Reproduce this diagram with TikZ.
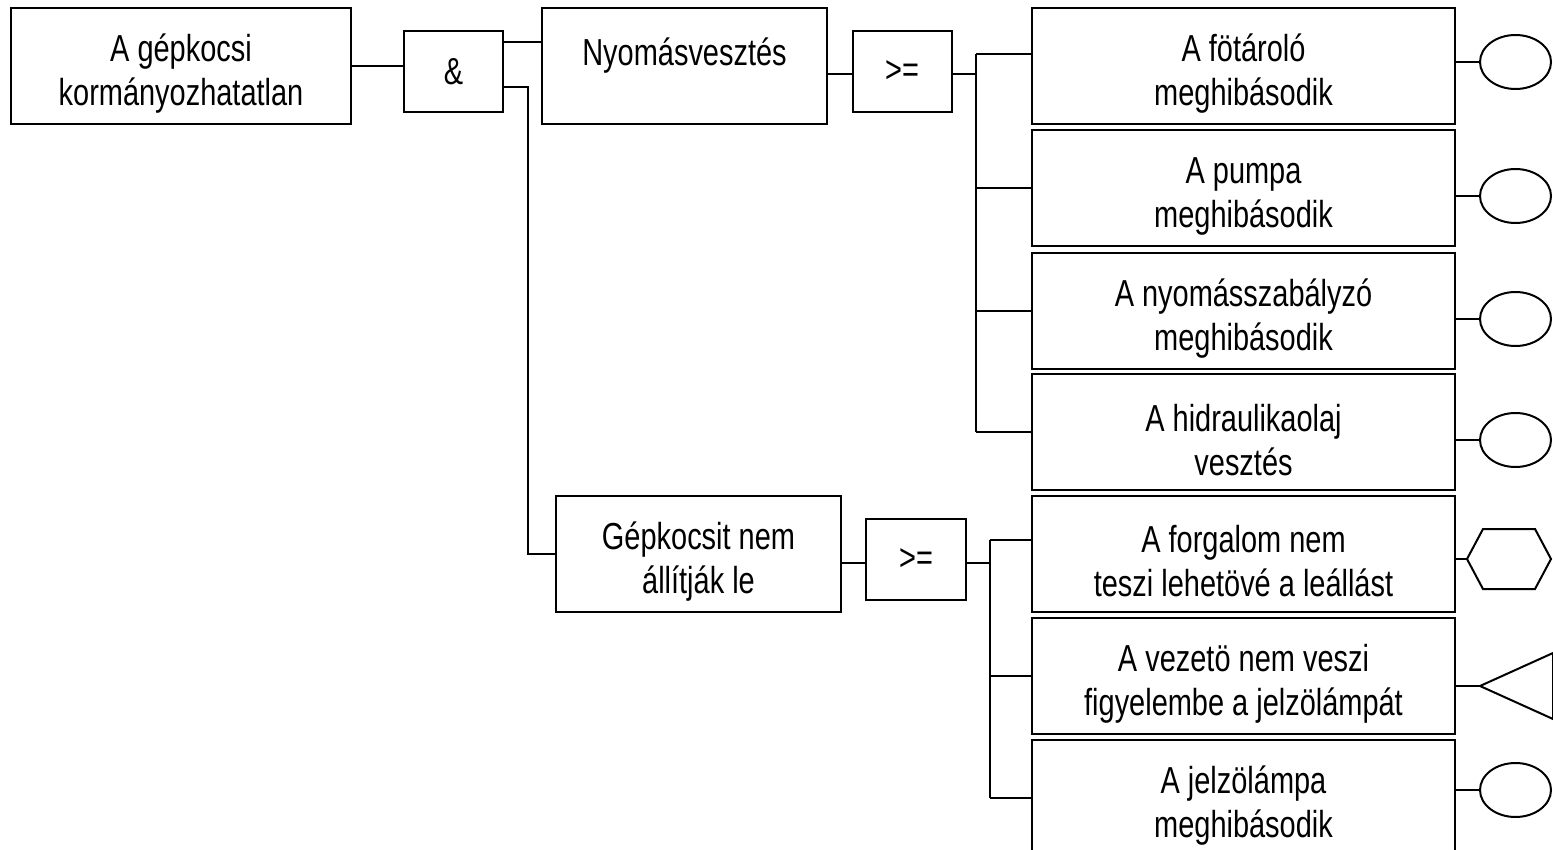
\documentclass[tikz,border=0pt]{standalone}
\usepackage{fontspec}
\setmainfont{Liberation Sans}[FakeStretch=0.77]
\usetikzlibrary{shapes.geometric}
\begin{document}
\begin{tikzpicture}[x=0.5pt,y=-0.5pt,line width=1pt,
  box/.style={draw,rectangle,minimum height=58pt,minimum width=#1,inner sep=0pt},
  gate/.style={draw,rectangle,minimum height=40.5pt,minimum width=#1,inner sep=0pt,
    font=\fontsize{18.8pt}{22pt}\selectfont},
  txt/.style={align=center,inner sep=0pt,font=\fontsize{18.8pt}{22pt}\selectfont},
  ev/.style={draw,ellipse,minimum width=35.5pt,minimum height=27pt,inner sep=0pt}]
\useasboundingbox (0,0) rectangle (1553,850);
% boxes
\node[box=170pt] (top) at (181,66) {};
\node[txt] (topt) at ([yshift=-4pt]top.center) {A gépkocsi\\kormányozhatatlan};
\node[gate=49.5pt] (and) at (453.5,71.5) {\&};
\node[box=142.5pt] (nyom) at (684.5,66) {};
\node[txt] (nyomt) at ([yshift=-4pt]nyom.center) {Nyomásvesztés\\\mbox{}};
\node[gate=49.5pt] (ge1) at (902,71.5) {>=};
\node[box=142.5pt] (gep) at (698.5,554) {};
\node[txt] (gept) at ([yshift=-4pt]gep.center) {Gépkocsit nem\\állítják le};
\node[gate=50pt] (ge2) at (916,559.5) {>=};
% basic events
\node[box=211.5pt] (rA) at (1243.5,66) {};
\node[txt] (rAt) at ([yshift=-4pt]rA.center) {A fötároló\\meghibásodik};
\node[box=211.5pt] (rB) at (1243.5,188) {};
\node[txt] (rBt) at ([yshift=-4pt]rB.center) {A pumpa\\meghibásodik};
\node[box=211.5pt] (rC) at (1243.5,311) {};
\node[txt] (rCt) at ([yshift=-4pt]rC.center) {A nyomásszabályzó\\meghibásodik};
\node[box=211.5pt] (rD) at (1243.5,432) {};
\node[txt] (rDt) at ([yshift=-4pt]rD.center) {A hidraulikaolaj\\vesztés};
\node[box=211.5pt] (rE) at (1243.5,553.5) {};
\node[txt] (rEt) at ([yshift=-4pt]rE.center) {A forgalom nem\\teszi lehetövé a leállást};
\node[box=211.5pt] (rF) at (1243.5,676) {};
\node[txt] (rFt) at ([yshift=-4pt]rF.center) {A vezetö nem veszi\\figyelembe a jelzölámpát};
\node[box=211.5pt] (rG) at (1243.5,798) {};
\node[txt] (rGt) at ([yshift=-4pt]rG.center) {A jelzölámpa\\meghibásodik};
% symbols
\node[ev] (eA) at (1515.5,62) {};
\node[ev] (eB) at (1515.5,196) {};
\node[ev] (eC) at (1515.5,319) {};
\node[ev] (eD) at (1515.5,440) {};
\node[ev] (eG) at (1515.5,790) {};
\coordinate (hE) at (1467,559);
\draw (hE) -- ++(16,-30) -- ++(52,0) -- ++(16,30) -- ++(-16,30) -- ++(-52,0) -- cycle;
\coordinate (tF) at (1480,686);
\draw (tF) -- ++(73,-33) -- ++(0,66) -- cycle;
% connectors
\coordinate (j1) at (528,554);
\coordinate (b1t) at (976,54);
\coordinate (b1b) at (976,432);
\coordinate (b2t) at (990,540);
\coordinate (b2b) at (990,798);
\draw (top.east) -- (top.east -| and.west);
\draw (and.east |- 0,42) -- (nyom.west |- 0,42);
\draw (and.east |- 0,87) -| (j1) -- (gep.west);
\draw (nyom.east |- 0,74) -- (ge1.west |- 0,74);
\draw (ge1.east |- 0,74) -- (b1t |- 0,74);
\draw (b1t) -- (b1b);
\draw (b1t) -- (b1t -| rA.west);
\draw (b1t |- rB.west) -- (rB.west);
\draw (b1t |- rC.west) -- (rC.west);
\draw (b1b) -- (rD.west);
\draw (gep.east |- 0,563) -- (ge2.west |- 0,563);
\draw (ge2.east |- 0,563) -- (b2t |- 0,563);
\draw (b2t) -- (b2b);
\draw (b2t) -- (b2t -| rE.west);
\draw (b2t |- rF.west) -- (rF.west);
\draw (b2b) -- (rG.west);
\draw (eA.west -| rA.east) -- (eA.west);
\draw (eB.west -| rB.east) -- (eB.west);
\draw (eC.west -| rC.east) -- (eC.west);
\draw (eD.west -| rD.east) -- (eD.west);
\draw (hE -| rE.east) -- (hE);
\draw (tF -| rF.east) -- (tF);
\draw (eG.west -| rG.east) -- (eG.west);
\end{tikzpicture}
\end{document}
